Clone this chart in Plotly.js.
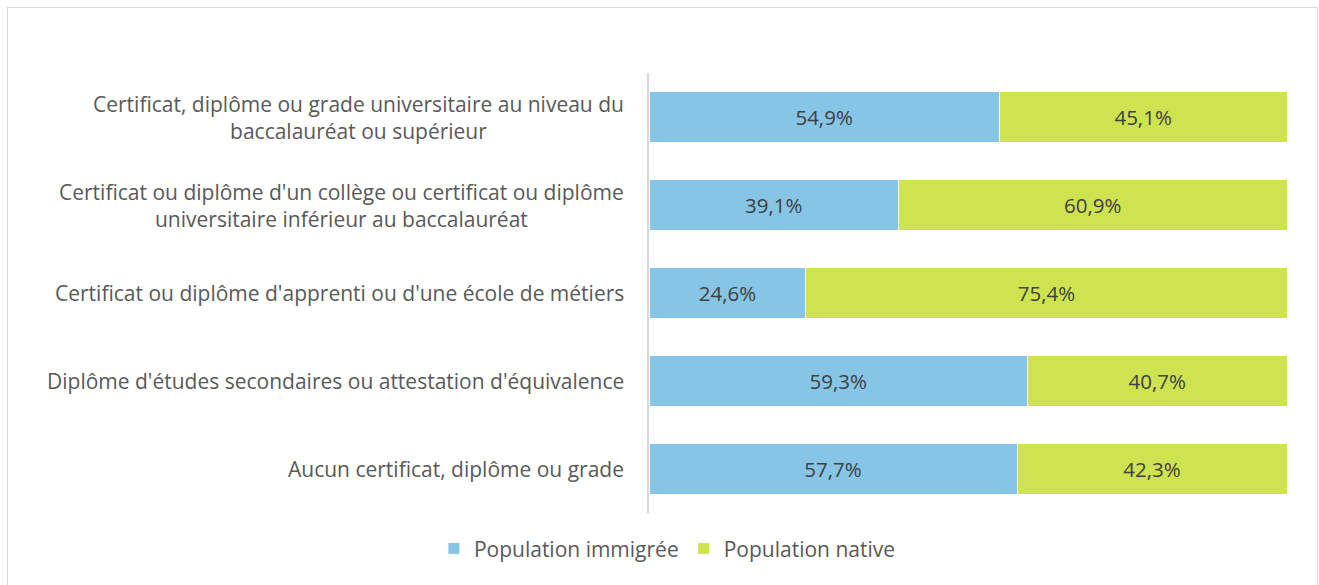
<!DOCTYPE html>
<html><head><meta charset="utf-8">
<script src="https://cdn.plot.ly/plotly-3.0.1.min.js"></script>
<style>html,body{margin:0;padding:0;background:#fff;}#frame{position:absolute;left:7px;top:7px;width:1309px;height:600px;border:1px solid #d9d9d9;pointer-events:none;}</style>
</head><body>
<div id="chart" style="width:1319px;height:585px;"></div>
<div id="frame"></div>
<script>
const categories = [
  "Certificat, diplôme ou grade universitaire au niveau du<br>baccalauréat ou supérieur",
  "Certificat ou diplôme d'un collège ou certificat ou diplôme<br>universitaire inférieur au baccalauréat",
  "Certificat ou diplôme d'apprenti ou d'une école de métiers",
  "Diplôme d'études secondaires ou attestation d'équivalence",
  "Aucun certificat, diplôme ou grade"
];
const immigree = [54.9, 39.1, 24.6, 59.3, 57.7];
const native = [45.1, 60.9, 75.4, 40.7, 42.3];
const seriesNames = ["Population immigrée", "Population native"];

const fmt = v => v.toFixed(1).replace('.', ',') + '%';
const FONT = "'Open Sans', sans-serif";

const mk = (vals, name, color) => ({
  type: 'bar', orientation: 'h', y: categories, x: vals, name: name,
  marker: {color: color, line: {color: '#ffffff', width: 1}},
  text: vals.map(fmt), textposition: 'inside', insidetextanchor: 'middle',
  textfont: {family: FONT, size: 20.5, color: '#404040'},
  hoverinfo: 'none'
});

const data = [
  mk(immigree, seriesNames[0], '#86c5e6'),
  mk(native, seriesNames[1], '#cde350')
];

const annotations = categories.map(c => ({
  xref: 'paper', yref: 'y', x: -0.036, y: c, xanchor: 'right', yanchor: 'middle',
  text: c, align: 'center', showarrow: false,
  font: {family: FONT, size: 21, color: '#595959'}
}));

const layout = {
  width: 1319, height: 585,
  margin: {l: 649, r: 32, t: 73, b: 72},
  barmode: 'stack', bargap: 0.42,
  paper_bgcolor: '#ffffff', plot_bgcolor: '#ffffff',
  xaxis: {range: [0, 100], showgrid: false, zeroline: false, showticklabels: false, showline: false, fixedrange: true},
  yaxis: {autorange: 'reversed', showticklabels: false, ticks: '', showgrid: false, zeroline: false,
          showline: true, linecolor: '#d9d9d9', linewidth: 2, fixedrange: true},
  showlegend: true,
  legend: {orientation: 'h', x: 0.506, xref: 'container', xanchor: 'center', y: 0.062, yref: 'container', yanchor: 'middle',
           font: {family: FONT, size: 21, color: '#595959'}, itemwidth: 30, traceorder: 'normal'},
  annotations: annotations
};

Plotly.newPlot('chart', data, layout, {displayModeBar: false, staticPlot: true});
</script>
</body></html>
